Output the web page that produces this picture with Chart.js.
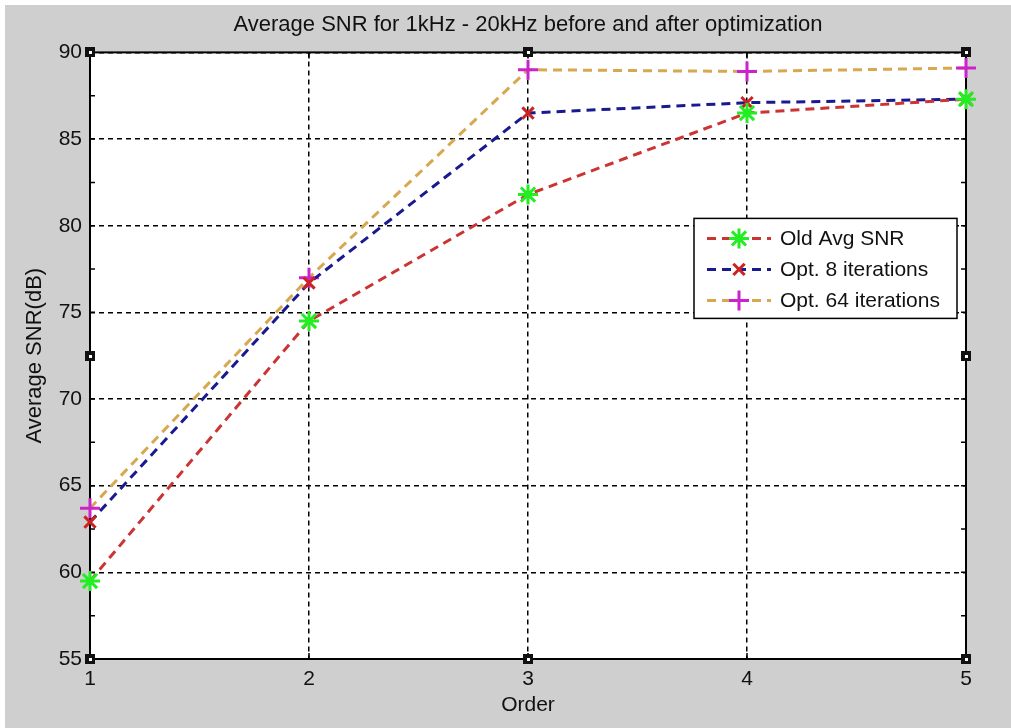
<!DOCTYPE html>
<html>
<head>
<meta charset="utf-8">
<script src="https://cdn.jsdelivr.net/npm/chart.js@4.4.0/dist/chart.umd.min.js"></script>
<style>
  html, body { margin: 0; padding: 0; background: #fff; }
  #wrap { position: absolute; left: 5px; top: 5px; width: 1006px; height: 723px; background: #cfcfcf; }
</style>
</head>
<body>
<div id="wrap"><canvas id="chart" width="1006" height="723"></canvas></div>
<script>
const orders = [1, 2, 3, 4, 5]
const oldAvgSnr = [59.5, 74.5, 81.8, 86.5, 87.3]
const opt8Snr = [62.9, 76.7, 86.5, 87.1, 87.3]
const opt64Snr = [63.7, 77.0, 89.0, 88.9, 89.1]
const seriesNames = ["Old Avg SNR", "Opt. 8 iterations", "Opt. 64 iterations"]
const yMinorTicks = [57.5, 62.5, 67.5, 72.5, 77.5, 82.5, 87.5]

const FONT = "'Liberation Sans', Arial, sans-serif"

const toPoints = (ys) => orders.map((x, i) => ({x: x, y: ys[i]}))

const makeSeries = (label, ys, lineColor, markerColor, style, radius) => ({
  label: label,
  data: toPoints(ys),
  borderColor: lineColor,
  borderWidth: 3,
  borderDash: [9, 6],
  pointStyle: style,
  pointRadius: radius,
  pointBorderWidth: 3,
  pointBorderColor: markerColor,
  pointBackgroundColor: markerColor,
  fill: false,
  tension: 0,
  clip: false
})

// white plot area, solid frame, inner tick marks
const plotFrame = {
  id: 'plotFrame',
  beforeDraw(chart) {
    const {ctx, chartArea: a} = chart
    ctx.save()
    ctx.fillStyle = '#fff'
    ctx.fillRect(a.left, a.top, a.width, a.height)
    ctx.restore()
  },
  beforeDatasetsDraw(chart) {
    const {ctx, chartArea: a, scales} = chart
    ctx.save()
    ctx.strokeStyle = '#000'
    ctx.lineWidth = 1.5
    ctx.beginPath()
    yMinorTicks.concat(scales.y.ticks.map(t => t.value)).forEach(v => {
      const py = scales.y.getPixelForValue(v)
      ctx.moveTo(a.left, py); ctx.lineTo(a.left + 5, py)
      ctx.moveTo(a.right, py); ctx.lineTo(a.right - 5, py)
    })
    scales.x.ticks.forEach(t => {
      const px = scales.x.getPixelForValue(t.value)
      ctx.moveTo(px, a.top); ctx.lineTo(px, a.top + 6)
      ctx.moveTo(px, a.bottom); ctx.lineTo(px, a.bottom - 6)
    })
    ctx.stroke()
    ctx.lineWidth = 2
    ctx.strokeRect(a.left, a.top, a.width, a.height)
    ctx.restore()
  }
}

// legend box inside the plot, with line + marker samples
const insideLegend = {
  id: 'insideLegend',
  afterDatasetsDraw(chart) {
    const {ctx, chartArea: a} = chart
    const w = 263, h = 100
    const x0 = a.right - 9 - w, y0 = a.top + 166
    ctx.save()
    ctx.fillStyle = '#fff'
    ctx.fillRect(x0, y0, w, h)
    ctx.strokeStyle = '#000'
    ctx.lineWidth = 1.5
    ctx.strokeRect(x0, y0, w, h)
    chart.data.datasets.forEach((ds, i) => {
      const cy = y0 + 20 + i * 31
      ctx.save()
      ctx.strokeStyle = ds.borderColor
      ctx.lineWidth = ds.borderWidth
      ctx.setLineDash([9, 6])
      ctx.beginPath()
      ctx.moveTo(x0 + 13, cy); ctx.lineTo(x0 + 77, cy)
      ctx.stroke()
      ctx.restore()
      ctx.strokeStyle = ds.pointBorderColor
      ctx.fillStyle = ds.pointBorderColor
      ctx.lineWidth = ds.pointBorderWidth
      Chart.helpers.drawPoint(ctx, {pointStyle: ds.pointStyle, radius: ds.pointRadius, borderWidth: ds.pointBorderWidth, rotation: 0}, x0 + 45, cy)
      ctx.fillStyle = '#111'
      ctx.font = '21px ' + FONT
      ctx.textBaseline = 'middle'
      ctx.textAlign = 'left'
      ctx.fillText(ds.label, x0 + 86, cy + 1)
    })
    ctx.restore()
  },
  afterDraw(chart) {
    // selection handles of the axes
    const {ctx, scales} = chart
    const spots = [[1, 90], [3, 90], [5, 90], [1, 72.5], [5, 72.5], [1, 55], [3, 55], [5, 55]]
    ctx.save()
    spots.forEach(([vx, vy]) => {
      const px = Math.round(scales.x.getPixelForValue(vx))
      const py = Math.round(scales.y.getPixelForValue(vy))
      ctx.fillStyle = '#111'
      ctx.fillRect(px - 5, py - 5, 10, 10)
      ctx.fillStyle = '#fff'
      ctx.fillRect(px - 1, py - 1, 3, 3)
    })
    ctx.restore()
  }
}

const ctx = document.getElementById('chart').getContext('2d')
new Chart(ctx, {
  type: 'line',
  data: {
    datasets: [
      makeSeries(seriesNames[0], oldAvgSnr, '#cc3333', '#22ee22', 'star', 10),
      makeSeries(seriesNames[1], opt8Snr, '#1a1a90', '#cc2222', 'crossRot', 8),
      makeSeries(seriesNames[2], opt64Snr, '#d8a850', '#cc22cc', 'cross', 10)
    ]
  },
  options: {
    responsive: false,
    animation: false,
    devicePixelRatio: 1,
    layout: { padding: { left: 0, right: 45, top: 0, bottom: 0 } },
    plugins: {
      legend: { display: false },
      tooltip: { enabled: false },
      title: {
        display: true,
        fullSize: false,
        text: 'Average SNR for 1kHz - 20kHz before and after optimization',
        color: '#111',
        font: { family: FONT, size: 22, weight: 'normal', lineHeight: 1.2 },
        padding: { top: 7, bottom: 14 }
      }
    },
    scales: {
      x: {
        type: 'linear',
        min: 1, max: 5,
        ticks: { stepSize: 1, color: '#111', padding: 8, font: { family: FONT, size: 21 } },
        grid: { color: '#000', lineWidth: 1.5, drawTicks: false },
        border: { display: false, dash: [5, 4] },
        title: { display: true, text: 'Order', color: '#111', font: { family: FONT, size: 21, lineHeight: 1.2 }, padding: { top: 0, bottom: 10 } },
        afterFit: (s) => { s.height = 69 }
      },
      y: {
        min: 55, max: 90,
        ticks: { stepSize: 5, color: '#111', padding: 8, font: { family: FONT, size: 21 } },
        grid: { color: '#000', lineWidth: 1.5, drawTicks: false },
        border: { display: false, dash: [5, 4] },
        title: { display: true, text: 'Average SNR(dB)', color: '#111', font: { family: FONT, size: 22, lineHeight: 1.2 }, padding: { top: 17, bottom: 0 } },
        afterFit: (s) => { s.width = 85 }
      }
    }
  },
  plugins: [plotFrame, insideLegend]
})
</script>
</body>
</html>
